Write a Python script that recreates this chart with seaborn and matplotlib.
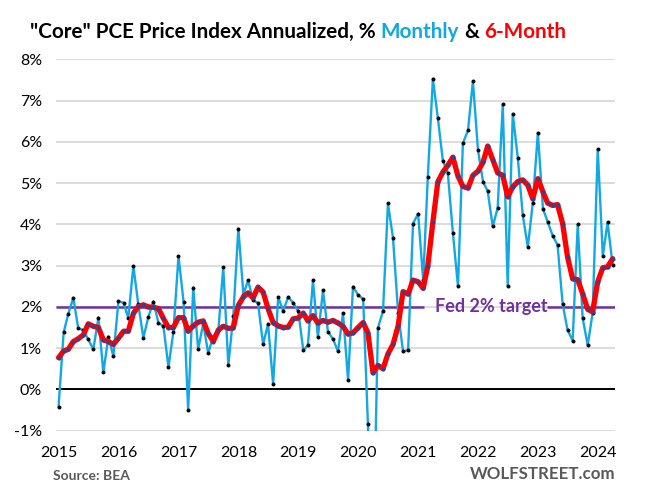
import matplotlib
matplotlib.use("Agg")
import matplotlib.pyplot as plt
import matplotlib.dates as mdates
import numpy as np
import pandas as pd
import seaborn as sns

# Core PCE, annualized %, Jan 2015 .. Apr 2024
monthly = [
    # 2015
    -0.42, 1.38, 1.83, 2.22, 1.48, 1.44, 1.21, 0.97, 1.74, 0.41, 1.28, 0.80,
    # 2016
    2.14, 2.10, 1.73, 2.99, 2.06, 1.25, 1.75, 2.13, 1.61, 1.54, 0.54, 1.39,
    # 2017
    3.23, 2.13, -0.50, 2.47, 0.97, 1.60, 0.88, 1.28, 1.42, 2.96, 0.59, 1.77,
    # 2018
    3.90, 2.30, 2.64, 2.17, 2.09, 1.09, 1.59, 0.13, 2.24, 1.90, 2.24, 2.10,
    # 2019
    1.90, 0.95, 1.07, 2.64, 1.26, 2.40, 1.40, 1.22, 0.92, 1.85, 0.22, 2.49,
    # 2020
    2.29, 2.19, -0.85, -4.20, 1.49, 1.90, 4.51, 3.67, 1.86, 0.92, 0.95, 4.02,
    # 2021
    4.26, 2.65, 5.15, 7.53, 6.59, 5.54, 5.25, 3.79, 2.50, 5.97, 6.28, 7.47,
    # 2022
    5.80, 5.03, 4.81, 3.95, 4.40, 6.92, 2.51, 6.68, 5.60, 4.22, 3.45, 4.52,
    # 2023
    6.22, 4.38, 4.07, 3.73, 3.50, 2.07, 1.44, 1.18, 4.00, 1.73, 1.07, 1.86,
    # 2024
    5.82, 3.24, 4.05, 3.01,
]

six_month = [
    0.77, 0.93, 0.97, 1.16, 1.23, 1.32, 1.59, 1.53, 1.50, 1.20, 1.16, 1.09,
    1.24, 1.41, 1.41, 1.84, 2.01, 2.05, 2.00, 1.99, 1.96, 1.72, 1.50, 1.50,
    1.74, 1.74, 1.41, 1.54, 1.63, 1.66, 1.36, 1.16, 1.44, 1.53, 1.48, 1.49,
    2.04, 2.24, 2.34, 2.22, 2.48, 2.36, 1.96, 1.62, 1.54, 1.50, 1.51, 1.71,
    1.73, 1.85, 1.66, 1.79, 1.61, 1.67, 1.63, 1.67, 1.61, 1.53, 1.34, 1.37,
    1.50, 1.62, 1.37, 0.40, 0.58, 0.50, 0.86, 1.09, 1.54, 2.37, 2.31, 2.65,
    2.61, 2.45, 2.99, 4.06, 5.03, 5.27, 5.43, 5.63, 5.17, 4.92, 4.88, 5.19,
    5.29, 5.51, 5.90, 5.57, 5.25, 5.19, 4.67, 4.91, 5.04, 5.08, 4.95, 4.62,
    5.11, 4.79, 4.52, 4.46, 4.48, 4.02, 3.21, 2.68, 2.66, 2.32, 1.94, 1.88,
    2.61, 2.95, 2.97, 3.17,
]

fed_target = 2.0
y_ticks = list(range(-1, 9))

BLUE = "#13A8E3"
RED = "#FF0000"
PURPLE = "#7030A0"
GRAY = "#595959"

dates = pd.date_range("2015-01-01", periods=len(monthly), freq="MS")
df = pd.DataFrame({"date": dates, "monthly": monthly, "six_month": six_month})

sns.set_theme(style="white")
plt.rcParams["font.family"] = ["Lato", "DejaVu Sans"]

fig = plt.figure(figsize=(6.6, 4.96), dpi=100)
ax = fig.add_axes([0.085, 0.131, 0.847, 0.75])

# grid + zero line
for v in y_ticks:
    ax.axhline(v, color="#D9D9D9", lw=1.3, zorder=0)
ax.axhline(0, color="black", lw=1.4, zorder=1)

sns.lineplot(data=df, x="date", y="monthly", ax=ax, color=BLUE, lw=1.7,
             marker="o", markersize=2.1, markerfacecolor="black",
             markeredgecolor="black", zorder=3)
sns.lineplot(data=df, x="date", y="six_month", ax=ax, color=RED, lw=3.8,
             marker="o", markersize=2.2, markerfacecolor="#3A3F8F",
             markeredgecolor="#3A3F8F", zorder=4)

x_lo = dates[0] - pd.Timedelta(days=15)
x_hi = dates[-1] + pd.Timedelta(days=15)
ax.set_xlim(x_lo, x_hi)
ax.set_ylim(-1.01, 8.01)

ax.set_yticks(y_ticks)
ax.set_yticklabels([f"{v}%" for v in y_ticks])
ax.xaxis.set_major_locator(mdates.YearLocator())
ax.xaxis.set_major_formatter(mdates.DateFormatter("%Y"))
ax.tick_params(axis="x", length=0, pad=11, labelsize=11.5, colors="black")
ax.tick_params(axis="y", length=0, pad=10, labelsize=11.5, colors="black")
ax.set_xlabel("")
ax.set_ylabel("")
for s in ax.spines.values():
    s.set_visible(False)

# Fed target line, broken by its label
renderer = fig.canvas.get_renderer()
lbl = ax.text(dates[75] + pd.Timedelta(days=10), fed_target, "Fed 2% target",
              color=PURPLE, fontsize=13, fontweight="bold", va="center",
              ha="left", zorder=5)
bb = lbl.get_window_extent(renderer)
inv = ax.transData.inverted()
left_end = inv.transform((bb.x0 - 11, 0))[0]
right_start = inv.transform((bb.x1, 0))[0]
ax.hlines(fed_target, mdates.date2num(x_lo), left_end, color=PURPLE, lw=1.8, zorder=2)
ax.hlines(fed_target, right_start, mdates.date2num(x_hi), color=PURPLE, lw=1.8, zorder=2)

# title in coloured pieces
parts = [('"Core" PCE Price Index Annualized, %', "black"), ("Monthly", BLUE),
         ("&", "black"), ("6-Month", RED)]
W = fig.get_figwidth() * fig.dpi
x = 30 / W
for text, col in parts:
    t = fig.text(x, 0.936, text, color=col, fontsize=14.9, fontweight="bold",
                 ha="left", va="center")
    b = t.get_window_extent(renderer)
    x = (b.x1 + 5.2) / W

fig.text(53 / W, 1 - 476 / 496, "Source: BEA", color=GRAY, fontsize=10,
         fontweight="bold", ha="left", va="center")
fig.text(615 / W, 1 - 474 / 496, "WOLFSTREET.com", color=GRAY, fontsize=12.2,
         fontweight="bold", ha="right", va="center")

fig.savefig("out.png", dpi=100)
